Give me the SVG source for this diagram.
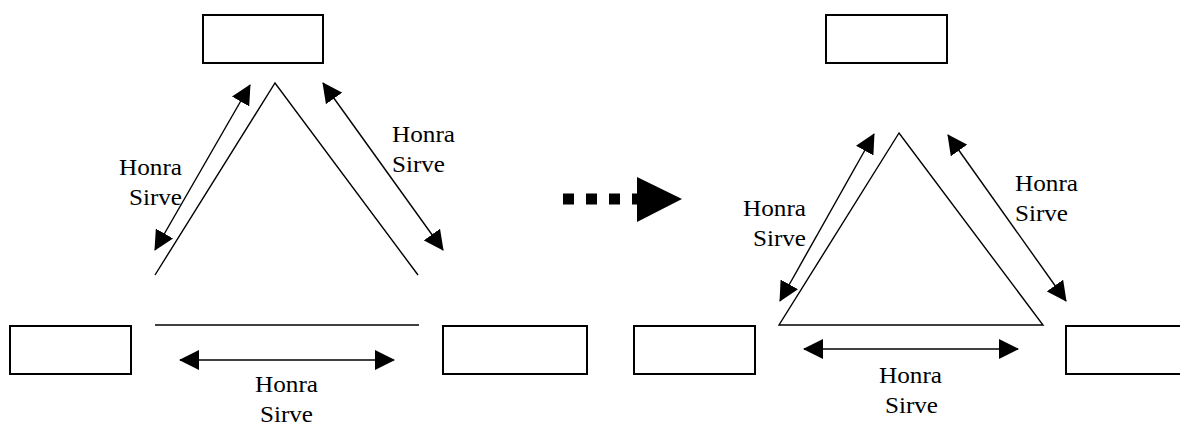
<svg xmlns="http://www.w3.org/2000/svg" width="1180" height="425" viewBox="0 0 1180 425">
<style>
.box{fill:#fff;stroke:#000;stroke-width:2}
.ln{fill:none;stroke:#000;stroke-width:1.4}
.arr{fill:none;stroke:#000;stroke-width:1.4;marker-start:url(#ah);marker-end:url(#ah)}
text{font-family:'Liberation Serif','Times New Roman',serif;font-size:24px;fill:#000}
</style>
<defs>
<marker id="ah" markerUnits="userSpaceOnUse" viewBox="0 0 20 20" markerWidth="20" markerHeight="20" refX="19" refY="10" orient="auto-start-reverse">
<path d="M0,0 L20,10 L0,20 z" fill="#000"/>
</marker>
</defs>
<rect width="1180" height="425" fill="#fff"/>
<g id="left-top"><rect class="box" x="203" y="15" width="120" height="48"/></g>
<g id="left-left"><rect class="box" x="10" y="326" width="121" height="48"/></g>
<g id="left-right"><rect class="box" x="443" y="326" width="144" height="48"/></g>
<g id="right-top"><rect class="box" x="826" y="15" width="121" height="48"/></g>
<g id="right-left"><rect class="box" x="634" y="326" width="121" height="48"/></g>
<g id="right-right"><rect class="box" x="1066" y="326" width="121" height="48"/></g>
<g id="shapes">
<polyline class="ln" points="155,275 275,83 418,275"/>
<line class="ln" x1="155" y1="325" x2="419" y2="325"/>
<polygon class="ln" points="899,133 779,325 1043,325"/>
</g>
<g id="connectors">
<line class="arr" x1="250" y1="85" x2="155" y2="250"/>
<line class="arr" x1="323" y1="83" x2="443" y2="250"/>
<line class="arr" x1="180" y1="360" x2="394" y2="360"/>
<line class="arr" x1="874" y1="134" x2="780" y2="301"/>
<line class="arr" x1="948" y1="135" x2="1066" y2="301"/>
<line class="arr" x1="804" y1="349" x2="1018" y2="349"/>
<line x1="563" y1="199" x2="640" y2="199" stroke="#000" stroke-width="11" stroke-dasharray="11 12"/>
<polygon points="637,177 682,199 637,222" fill="#000"/>
</g>
<g id="labels">
<text x="119" y="175" textLength="63" lengthAdjust="spacingAndGlyphs">Honra</text>
<text x="129" y="205" textLength="53" lengthAdjust="spacingAndGlyphs">Sirve</text>
<text x="392" y="142" textLength="63" lengthAdjust="spacingAndGlyphs">Honra</text>
<text x="392" y="172" textLength="53" lengthAdjust="spacingAndGlyphs">Sirve</text>
<text x="255" y="392" textLength="63" lengthAdjust="spacingAndGlyphs">Honra</text>
<text x="260" y="422" textLength="53" lengthAdjust="spacingAndGlyphs">Sirve</text>
<text x="743" y="216" textLength="63" lengthAdjust="spacingAndGlyphs">Honra</text>
<text x="753" y="246" textLength="53" lengthAdjust="spacingAndGlyphs">Sirve</text>
<text x="1015" y="191" textLength="63" lengthAdjust="spacingAndGlyphs">Honra</text>
<text x="1015" y="221" textLength="53" lengthAdjust="spacingAndGlyphs">Sirve</text>
<text x="879" y="383" textLength="63" lengthAdjust="spacingAndGlyphs">Honra</text>
<text x="885" y="413" textLength="53" lengthAdjust="spacingAndGlyphs">Sirve</text>
</g>
</svg>
